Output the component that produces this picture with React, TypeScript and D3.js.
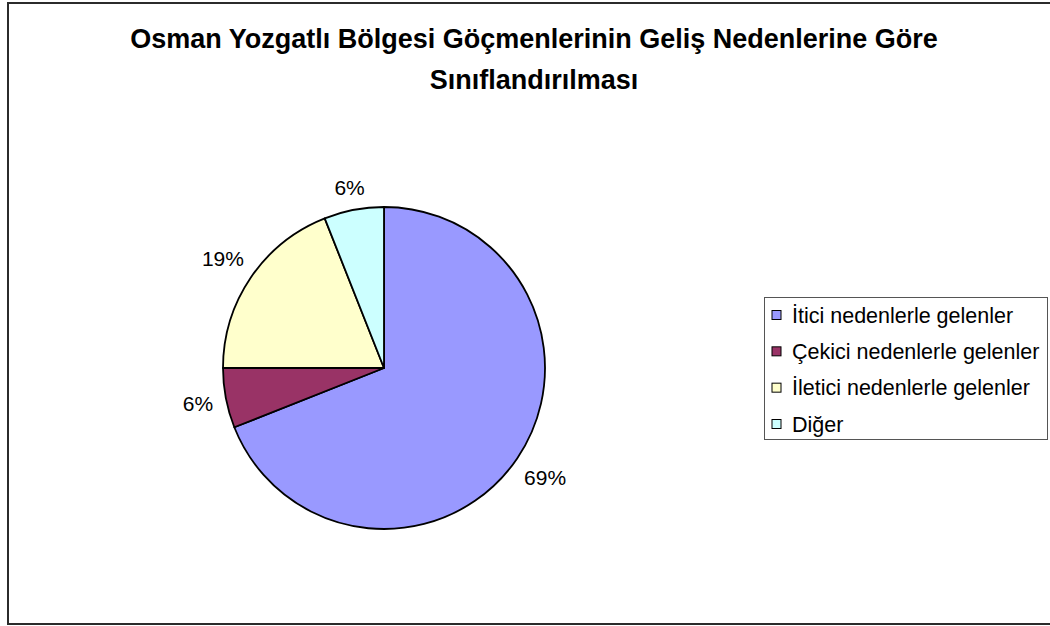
import React from 'react';
import * as d3 from 'd3';

// Chart content
const titleLines = [
  'Osman Yozgatlı Bölgesi Göçmenlerinin Geliş Nedenlerine Göre',
  'Sınıflandırılması',
];
const categories = [
  'İtici nedenlerle gelenler',
  'Çekici nedenlerle gelenler',
  'İletici nedenlerle gelenler',
  'Diğer',
];
const shares = [69, 6, 19, 6];
const sliceColors = ['#9999FF', '#993366', '#FFFFCC', '#CCFFFF'];

const W = 1050;
const H = 626;
const FONT = '"Liberation Sans", Arial, sans-serif';

const App = () => {
  // Pie geometry
  const cx = 384;
  const cy = 368;
  const radius = 161;
  const labelSize = 21;

  const pie = d3.pie<number>().sort(null).value(d => d);
  const arcs = pie(shares);
  const arc = d3.arc<d3.PieArcDatum<number>>().innerRadius(0).outerRadius(radius);
  const total = d3.sum(shares);
  const pct = d3.format('.0%');

  // Legend rows
  const legendY = d3.scalePoint<string>()
    .domain(categories)
    .range([315, 424]);

  return (
    <svg
      width={W}
      height={H}
      style={{ position: 'absolute', left: 0, top: 0, display: 'block', background: '#fff' }}
      fontFamily={FONT}
    >
      {/* outer chart frame */}
      <rect x={8} y={3} width={1060} height={621} fill="#fff" stroke="#2b2b2b" strokeWidth={2} />

      {/* title */}
      {titleLines.map((t, i) => (
        <text
          key={t}
          x={534}
          y={48 + i * 41}
          textAnchor="middle"
          fontSize={27}
          fontWeight="bold"
          fill="#000"
        >
          {t}
        </text>
      ))}

      {/* slices */}
      <g transform={`translate(${cx},${cy})`}>
        {arcs.map((a, i) => (
          <path
            key={categories[i]}
            d={arc(a) || ''}
            fill={sliceColors[i]}
            stroke="#000"
            strokeWidth={1.8}
            strokeLinejoin="round"
          />
        ))}

        {/* percentage labels outside the slices */}
        {arcs.map((a, i) => {
          const label = pct(a.value / total);
          const mid = (a.startAngle + a.endAngle) / 2;
          const s = Math.sin(mid);
          const c = Math.cos(mid);
          const w = labelSize * (0.556 * (label.length - 1) + 0.889);
          const h = labelSize * 0.75;
          const dist = radius + 12 + Math.abs(s) * w / 2 + Math.abs(c) * h / 2;
          return (
            <text
              key={'l' + i}
              x={s * dist}
              y={-c * dist}
              dy="0.36em"
              textAnchor="middle"
              fontSize={labelSize}
              fill="#000"
            >
              {label}
            </text>
          );
        })}
      </g>

      {/* legend */}
      <rect x={764.5} y={297.5} width={283} height={142} fill="#fff" stroke="#555" strokeWidth={1} />
      {categories.map((cat, i) => {
        const y = legendY(cat) as number;
        return (
          <g key={cat}>
            <rect x={772} y={y - 4.5} width={9} height={9} fill={sliceColors[i]} stroke="#000" strokeWidth={1} />
            <text x={792} y={y} dy="0.36em" fontSize={21.5} fill="#000">
              {cat}
            </text>
          </g>
        );
      })}
    </svg>
  );
};

export default App;
